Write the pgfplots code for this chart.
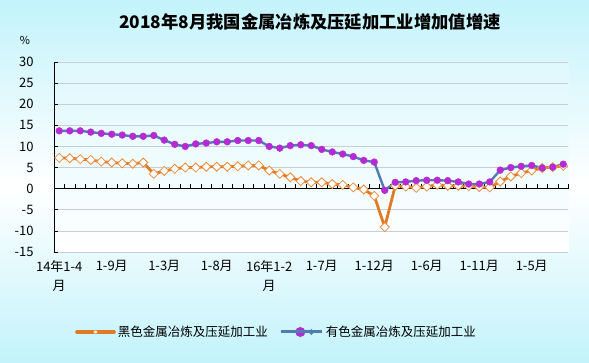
\documentclass[border=0pt]{standalone}
\usepackage{fontspec}
\setmainfont{Noto Sans CJK SC}
\usepackage{pgfplots}
\usepackage{pgfplotstable}
\pgfplotsset{compat=1.18}
\definecolor{bgcyan}{RGB}{195,243,251}
\definecolor{ocol}{RGB}{224,122,36}
\definecolor{odia}{RGB}{234,140,60}
\definecolor{bcol}{RGB}{80,125,175}
\definecolor{pcol}{RGB}{182,42,214}
\definecolor{gridc}{RGB}{200,206,212}

\pgfplotstableread{
i fe nf
0 7.3 13.7
1 7.2 13.7
2 7.0 13.7
3 6.8 13.4
4 6.4 13.1
5 6.2 12.9
6 6.0 12.7
7 5.9 12.4
8 6.2 12.4
9 3.5 12.6
10 4.2 11.5
11 4.7 10.5
12 5.0 10.0
13 5.0 10.6
14 5.2 10.8
15 5.2 11.1
16 5.2 11.1
17 5.3 11.4
18 5.5 11.4
19 5.5 11.4
20 4.3 10.0
21 3.5 9.6
22 2.7 10.2
23 1.8 10.4
24 1.5 10.2
25 1.5 9.3
26 1.1 8.7
27 0.9 8.2
28 0.3 7.6
29 -0.2 6.7
30 -1.7 6.3
31 -9.1 -0.4
32 0.7 1.5
33 0.5 1.6
34 0.2 1.9
35 0.5 2.0
36 0.9 2.0
37 0.7 1.9
38 0.7 1.6
39 0.6 1.1
40 0.4 1.1
41 0.3 1.6
42 1.7 4.4
43 2.9 5.0
44 3.7 5.3
45 4.3 5.5
46 4.9 4.9
47 5.1 5.1
48 5.4 5.8
}\data

\begin{document}
\begin{tikzpicture}[x=1pt,y=1pt]
\useasboundingbox (0,0) rectangle (589,362);
\shade[top color=bgcyan, bottom color=white] (0,175) rectangle (589,362);
\shade[top color=white, bottom color=bgcyan] (0,0) rectangle (589,175.5);
\shade[top color=bgcyan!55!white, bottom color=white] (54,110) rectangle (568.5,300);
\node[font=\bfseries\fontsize{17.3}{19}\selectfont] at (310,340) {2018年8月我国金属冶炼及压延加工业增加值增速};
\node[font=\fontsize{11}{13}\selectfont] at (25,322) {\%};
\begin{axis}[
  at={(54pt,110pt)}, anchor=south west,
  scale only axis, width=514.5pt, height=190pt,
  xmin=-0.5, xmax=48.5, ymin=-15, ymax=30,
  axis x line*=bottom, axis y line*=left,
  x axis line style={draw=none},
  y axis line style={black, line width=0.8pt},
  xtick={0,5,...,45},
  xticklabels={{14年1-4\\月},1-9月,1-3月,1-8月,{16年1-2\\月},1-7月,1-12月,1-6月,1-11月,1-5月},
  xtick style={draw=none},
  ytick={-15,-10,...,30},
  ytick style={black, line width=0.6pt},
  tick align=inside, major tick length=4pt,
  ymajorgrids, grid style={gridc, line width=0.7pt},
  /pgf/number format/assume math mode=true,
  tick label style={font=\fontsize{13}{19}\selectfont},
  xticklabel style={align=center, yshift=-5pt},
  yticklabel style={xshift=-17pt},
  clip=false,
  legend style={at={(0.035,-0.421)}, anchor=west, legend columns=2, draw=none, fill=none,
    font=\fontsize{12.5}{14}\selectfont,
    /tikz/every even column/.append style={column sep=10pt}},
]
\draw[black, line width=0.9pt] (axis cs:-0.5,0) -- (axis cs:48.5,0);
\pgfplotsinvokeforeach{0.5,1.5,...,48.5}{\draw[black, line width=0.6pt] (axis cs:#1,0) -- ++(0pt,4.5pt);}
\addlegendimage{ocol, line width=3.6pt, legend image code/.code={
  \draw[ocol, line width=3.6pt, line cap=round] (1pt,0pt) -- (38pt,0pt);
  \draw[fill=white, draw=odia, line width=0.6pt] (19.5pt,0pt) circle (2pt);}}
\addlegendentry{黑色金属冶炼及压延加工业}
\addlegendimage{bcol, line width=3pt, legend image code/.code={
  \draw[bcol, line width=3pt, line cap=round] (1pt,0pt) -- (18pt,0pt);
  \fill[pcol] (19pt,0pt) circle (3.4pt);
  \fill[bcol] (30pt,0pt) circle (0.9pt);
  \path (0pt,0pt) -- (41pt,0pt);}}
\addlegendentry{有色金属冶炼及压延加工业}
\addplot[bcol, line width=2.4pt, forget plot] table[x=i,y=nf] {\data};
\addplot[ocol, line width=2.8pt, forget plot] table[x=i,y=fe] {\data};
\addplot[only marks, mark=square*, mark size=3.2pt, mark options={rotate=45, fill=white, draw=odia, line width=0.8pt}, forget plot] table[x=i,y=fe] {\data};
\addplot[only marks, mark=*, mark size=3.4pt, mark options={fill=pcol, draw=pcol}, forget plot] table[x=i,y=nf] {\data};
\end{axis}
\end{tikzpicture}
\end{document}
